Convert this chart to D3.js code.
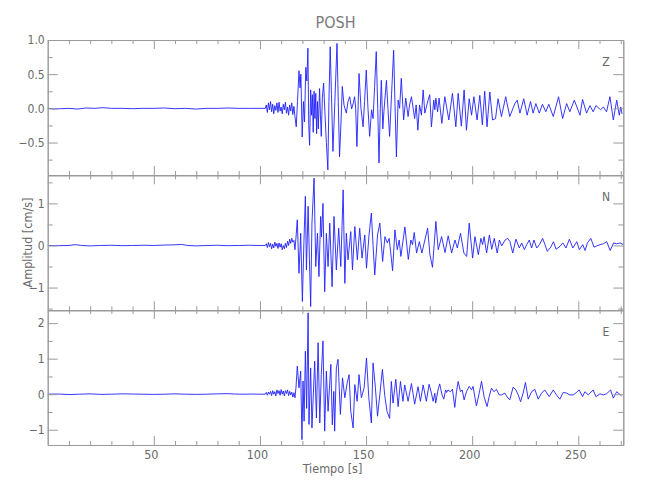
<!DOCTYPE html>
<html><head><meta charset="utf-8">
<script src="https://cdn.jsdelivr.net/npm/d3@7"></script>
<style>
body{margin:0;background:#fff}
svg text{font-family:'Liberation Sans Narrow','DejaVu Sans Condensed','DejaVu Sans',sans-serif;font-stretch:condensed;}
</style>
</head><body>
<svg id="chart" width="650" height="500"></svg>
<script>
// ---- DATA ----
const title = "POSH";
const channels = ["Z", "N", "E"];
const xLabel = "Tiempo [s]";
const yLabel = "Amplitud [cm/s]";
const xMajorTicks = [50, 100, 150, 200, 250];
const xMinorTicks = [10,20,30,40,60,70,80,90,110,120,130,140,160,170,180,190,210,220,230,240,260,270];
const yMajorZ = [-0.5, 0, 0.5, 1.0];
const yMinorZ = [-0.75, -0.25, 0.25, 0.75];
const yMajorN = [-1, 0, 1];
const yMinorN = [-1.5, -0.5, 0.5, 1.5];
const yMajorE = [-1, 0, 1, 2];
const yMinorE = [-0.5, 0.5, 1.5];
const yRangeZ = [-0.975, 1.0];
const yRangeN = [-1.54, 1.667];
const yRangeE = [-1.43, 2.37];
const timeRange = [0, 271.2];

// trace samples: [time (s), amplitude (cm/s)]
const traceZ = [
[0,0],[3,-0.01],[6,-0.005],[10,0],[14,-0.01],[18,0.005],[22,0],[26,0.01],[30,0],[35,0],[40,-0.005],[45,0],[50,0],[55,0.005],[60,-0.005],[65,0],[70,-0.01],[75,0],[80,0],[85,0.005],[90,0],[95,0],[100,0],[102.5,0],
[103,0.05],[103.5,-0.06],[104,0.08],[104.5,-0.02],[105,0.1],[105.5,-0.05],[106,0.06],[106.5,-0.08],[107,0.04],[107.5,-0.03],[108,0.08],[108.5,-0.06],[109,0.09],[109.5,-0.04],[110,0.02],[110.5,-0.08],[111,0.06],[111.5,-0.02],[112,0.09],[112.5,-0.07],[113,0.02],[113.5,-0.1],[114,0.05],[114.5,-0.04],[115,0.08],[115.5,-0.09],[116,0.03],[116.5,-0.12],[117.1,-0.27],
[117.7,0.1],[118.4,0.55],[118.9,0.3],[119.3,0.5],[119.9,-0.42],[120.5,0.1],[121,-0.2],[121.6,0.6],[122.1,0.4],[122.6,0.88],[123,-0.25],[123.4,-0.54],[123.9,0.27],[124.3,-0.1],[124.7,0.2],[125.1,-0.35],[125.5,0.25],[125.9,-0.15],[126.3,0.22],[126.7,-0.37],[127.1,0.1],[127.5,-0.3],[128.1,0.29],[128.5,-0.1],[128.9,-0.41],[129.4,0.15],[130,0.37],[130.6,-0.05],[131.3,-0.5],[132,-0.9],[132.5,0.1],[133.1,0.9],[133.7,0.2],[134.4,-0.63],[135.3,0.1],[136.3,0.95],[136.9,0.1],[137.5,-0.71],[138.2,-0.2],[138.8,0.32],[139.6,0.05],[140.7,-0.07],[141.5,0.1],[142.3,0.17],[143.2,-0.01],[144,0.08],[144.6,0.17],[145.1,0],[145.7,-0.56],[146.7,0.51],[147.6,0],[148.6,-0.27],[149.3,0.1],[150.1,0.56],[150.9,0],[151.7,-0.41],[152.6,-0.02],[153.3,-0.15],[154,0.3],[154.8,0.83],[155.5,0],[156.1,-0.8],[156.7,0],[157.2,0.41],[157.9,-0.3],[158.4,-0.05],[159.6,0.41],[160.3,0],[161.1,-0.41],[162,0.2],[163,0.85],[163.6,0.1],[164.3,-0.71],[165.1,0.12],[165.8,0],[166.6,0.44],[167.7,-0.17],[168.7,0.15],[169.8,-0.12],[170.5,0.05],[171.4,0.17],[172.9,-0.15],[173.6,0.05],[174.4,-0.32],[175.2,0.05],[176.1,-0.1],[176.9,0.27],[177.7,-0.07],[178.4,0.02],[179.2,0.12],
[180,0.2],[180.8,-0.27],[181.9,0.12],[182.4,-0.02],[182.9,0.15],[183.7,-0.05],[184.4,0.15],[185.7,-0.22],[187.1,0.17],[189,-0.17],[190.7,0.22],[192.3,-0.27],[193.4,0.22],[194.9,-0.26],[196.2,0.27],[197.3,-0.32],[198.6,0.14],[199.7,-0.1],[200.8,0.17],[202.3,-0.17],[203.6,0.19],[204.8,-0.24],[205.9,0.25],[207,-0.27],[208.3,0.24],[209.6,-0.17],[211,-0.15],[212.2,0.14],[213.8,-0.12],[215.8,0.17],[217.7,-0.12],[220.1,0.07],[221.2,0.12],[222.5,-0.07],[224.3,0.14],[225.9,-0.1],[227.5,0.1],[228.7,-0.07],[230,0.07],[231.6,-0.07],[233.1,0.06],[234.7,-0.05],[236.1,0.06],[238.2,-0.12],[240.7,0.17],[242.6,-0.15],[244.5,0.07],[246,-0.05],[248.1,0.12],[250.8,-0.1],[252,0.13],[253.9,-0.07],[255.5,0.04],[257,-0.05],[258.3,0.04],[260.5,-0.02],[261.8,0.02],[263.3,-0.05],[264.9,0.17],[266.5,-0.17],[268.1,0.12],[269.3,-0.1],[270,0.02],[270.6,-0.08]
];
const traceN = [
[0,0],[5,-0.005],[10,0],[13,0.02],[16,0],[20,-0.01],[25,0],[30,0.005],[35,-0.005],[40,0],[45,0.005],[50,0],[55,0.01],[60,0.015],[63,0.025],[66,0],[70,-0.01],[75,0],[80,0.005],[85,-0.005],[90,0],[95,0.005],[100,0],[102.5,0],
[103,0.04],[103.5,-0.05],[104,0.07],[104.5,-0.03],[105,0.05],[105.5,-0.08],[106,0.03],[106.5,-0.06],[107,0.08],[107.5,-0.02],[108,0.05],[108.5,-0.07],[109,0.06],[109.5,-0.04],[110,0.04],[110.5,-0.1],[111,0],[111.5,-0.08],[112,0.05],[112.5,-0.05],[113,0.1],[113.5,0],[114,0.15],[114.5,0.05],[115,0.17],[115.5,0.08],[116,0.12],[116.5,-0.1],[117,0.2],
[117.6,0.61],[118.4,-0.66],[119.2,0.29],[120,-1.33],[120.7,0.05],[121.4,1.17],[121.9,-0.58],[122.7,0.93],[123.3,-0.3],[123.9,-1.45],[124.5,0.53],[125.5,1.6],[126.3,-0.5],[127.1,0.29],[127.8,-0.74],[128.6,0.69],[129,0.2],[129.7,1.0],[130.5,-1.1],[131.3,0.29],[132.1,-0.5],[132.9,0.53],[134,-0.98],[134.9,0.69],[136,-0.58],[137.1,0.41],[138.1,-0.5],[139.2,1.32],[140,-0.9],[140.7,0.29],[141.5,-0.34],[142.8,0.33],[143.6,-0.58],[144.7,0.45],[145.9,-0.34],[147,0.41],[148.1,-0.3],[149.4,0.25],[150.2,-0.54],[151.4,0.25],[152.5,0.77],[153.3,0],[154.1,-0.7],[155.4,0.25],[156.5,0.53],
[157.8,-0.38],[158.9,0.21],[160,0.06],[160.9,0.17],[162.5,-0.6],[163.6,0.37],[164.7,-0.1],[165.6,0.13],[166.4,-0.26],[168.3,0.44],[169.9,-0.33],[171.1,0.13],[171.9,0.02],[172.7,0.31],[173.8,-0.18],[175.1,0.09],[176.3,-0.18],[177.4,0.06],[179,0.41],[180.1,-0.22],[181.3,-0.52],[182.9,0.57],[184,-0.1],[185.6,0.21],[187.2,-0.17],[188.7,0.23],[190.3,-0.18],[191.9,0.13],[193,-0.06],[194.5,0.29],[196.1,-0.18],[197.4,-0.26],[198.6,0.53],[200.2,-0.3],[201.3,0.21],[202.9,-0.22],[204.1,0.17],[204.9,0.02],[205.6,0.21],[206.8,-0.18],[208.1,0.25],[209.2,-0.09],[210.4,0.17],[211.8,-0.18],[212.8,0.13],[213.9,-0.01],[215.5,0.13],[216.7,0.17],[217.8,0.09],[219.1,-0.18],[220.6,0.15],[222.2,-0.06],[223.3,0.06],[224.6,-0.1],[225.7,0.02],[226.9,0.13],[228,-0.06],[229.1,0.13],[230.4,-0.06],[231.7,0.02],[233.2,0.17],[234.3,0.02],[235.4,-0.14],[237,-0.04],[238.3,0.09],[239.5,-0.09],[241.4,-0.02],[242.7,0.06],[244.2,-0.06],[245.8,0.15],[247.4,-0.06],[249.3,0.09],[250.5,-0.1],[252.1,0.02],[253.2,-0.12],[254.3,0.06],[255.9,0.17],[257.4,-0.04],[258.7,-0.01],[260.3,0.02],[261.8,0.04],[263.4,0.09],[265,-0.12],[266.6,0.06],[268.1,0.04],[269.7,0.06],[271.2,0.02]
];
const traceE = [
[0,0],[5,0.005],[10,-0.01],[15,0],[20,0.01],[25,-0.005],[30,0],[35,0.01],[40,0.005],[45,0],[50,-0.005],[55,0],[60,0.01],[65,0],[70,-0.005],[75,0],[80,0.01],[85,0.015],[88,0.005],[92,0],[96,0.005],[100,0],[102.5,0],
[103,0.05],[103.5,-0.03],[104,0.06],[104.5,0],[105,0.08],[105.5,-0.04],[106,0.1],[106.5,0],[107,0.07],[107.5,-0.05],[108,0.12],[108.5,0.02],[109,0.1],[109.5,-0.03],[110,0.13],[110.5,0],[111,0.09],[111.5,-0.05],[112,0.1],[112.5,0.02],[113,0.12],[113.5,-0.04],[114,0.08],[114.5,-0.02],[115,0.06],[115.5,-0.08],[116,0.04],[116.5,-0.1],[117,0.2],
[117.6,0.79],[118.4,0.18],[119.2,0.65],[119.8,-1.28],[120.3,0.37],[120.8,-0.76],[121.4,1.21],[122,-0.4],[122.7,2.29],[123.1,-0.85],[123.9,0.74],[124.5,-0.95],[125.8,0.93],[126.6,-0.67],[127.4,1.45],[128.2,-0.81],[128.9,0.55],[129.7,1.5],[130.5,-1.04],[131.3,0.65],[132.1,-0.48],[133.4,0.84],[134.1,-0.86],[134.8,0.08],[135.2,-1.04],[136,0.74],[136.8,0.98],[137.9,-0.57],[138.9,0.46],[140,-0.1],[141.1,0.32],[142,0.55],[142.8,-0.48],[143.9,-0.95],[144.7,0.27],[145.8,-0.2],[146.7,0.55],[147.8,-0.1],[149.1,0.18],[150.2,1.02],[151.3,-0.1],[152.5,-0.81],[153.3,0.88],[154.4,0.18],[155.4,-0.62],[156.5,-0.01],[157.7,0.7],
[158.8,-0.04],[159.9,-0.49],[161.1,-0.68],[161.9,0.36],[162.7,-0.25],[164,0.42],[165.1,-0.35],[166.2,0.36],[167.4,-0.2],[168.2,0.26],[169.8,-0.2],[171.4,0.3],[172.9,-0.28],[174.5,0.21],[175.6,-0.2],[176.9,0.26],[178.4,-0.2],[179.7,0.28],
[180.8,0.03],[181.6,-0.2],[182.4,0.03],[182.8,-0.25],[183.9,0.12],[184.7,0.29],[185.8,-0.02],[186.6,-0.14],[187.5,0.12],[188,0.05],[188.6,0.12],[189.7,0.07],[190.7,0.14],[191.8,-0.37],[192.6,0.07],[193.4,0.36],[194.5,0.07],[195.3,0.12],[196.2,-0.16],[197.3,0.07],[198.6,0.22],[199.7,0.12],[200.4,0.22],[202,-0.33],[203.3,0.03],[204.4,0.36],[205.6,-0.07],[207,-0.35],[208,-0.07],[209.1,0.17],[210.3,0.07],[211.4,0.14],[212.7,-0.02],[213.8,-0.02],[215.4,0.03],[216.5,-0.08],[217.7,-0.16],[219.3,0.2],[220.6,0.12],[221.7,-0.02],[222.8,-0.21],[224,0.03],[225.1,0.33],[226.4,-0.14],[228,0.07],[229.5,0.14],[231.1,-0.14],[232.7,0.03],[234.2,0.12],[236.3,-0.07],[238.2,0.12],[239.7,-0.02],[241.3,-0.14],[242.9,0.05],[244.5,0.03],[246,-0.02],[247.6,-0.02],[249.2,0.05],[250.4,0.12],[252,-0.07],[253.1,0.07],[254.7,-0.02],[257,0.12],[258.3,-0.07],[260.2,0.01],[261.8,-0.02],[263.3,0.01],[265.2,0.12],[266.5,-0.11],[268.1,0.07],[269.3,0.01],[270.4,-0.05]
];

// ---- LAYOUT / DRAW ----
const svg = d3.select("#chart");
const left = 47.7, right = 623.3;
const panelTops = [40, 175.3, 310];
const panelH = 135;
const axisColor = "#9a9a9a";
const textColor = "#6a6a6a";

const x = d3.scaleLinear().domain(timeRange).range([left, right]);

const panels = [
  {name: channels[0], data: traceZ, dom: yRangeZ, maj: yMajorZ, min: yMinorZ, fmt: d3.format(".1f")},
  {name: channels[1], data: traceN, dom: yRangeN, maj: yMajorN, min: yMinorN, fmt: d3.format("d")},
  {name: channels[2], data: traceE, dom: yRangeE, maj: yMajorE, min: yMinorE, fmt: d3.format("d")}
];

function styleAxis(g){
  g.selectAll("path").attr("stroke", axisColor).attr("stroke-width", 1);
  g.selectAll("line").attr("stroke", axisColor).attr("stroke-width", 1);
  g.selectAll("text").attr("fill", textColor).attr("font-size", 12.5);
}

panels.forEach((p, i) => {
  const top = panelTops[i], bot = top + panelH;
  const y = d3.scaleLinear().domain(p.dom).range([bot, top]);

  const clipId = "clip" + i;
  svg.append("clipPath").attr("id", clipId).append("rect")
    .attr("x", left).attr("y", top).attr("width", right - left).attr("height", panelH);

  const line = d3.line().x(d => x(d[0])).y(d => y(d[1]));
  svg.append("path").datum(p.data)
    .attr("clip-path", `url(#${clipId})`)
    .attr("d", line).attr("fill", "none")
    .attr("stroke", "#2020ff").attr("stroke-width", 0.9).attr("stroke-linejoin", "round");

  // left axes
  svg.append("g").attr("transform", `translate(${left},0)`)
    .call(d3.axisLeft(y).tickValues(p.maj).tickSizeInner(-10).tickSizeOuter(0).tickPadding(3)
      .tickFormat(d => p.fmt(d).replace("-", "\u2212")))
    .call(styleAxis).call(g => g.selectAll("text").attr("font-size", 12));
  svg.append("g").attr("transform", `translate(${left},0)`)
    .call(d3.axisLeft(y).tickValues(p.min).tickSizeInner(-5).tickSizeOuter(0).tickFormat(""))
    .call(styleAxis);
  // right axes
  svg.append("g").attr("transform", `translate(${right},0)`)
    .call(d3.axisRight(y).tickValues(p.maj).tickSizeInner(-10).tickSizeOuter(0).tickFormat(""))
    .call(styleAxis);
  svg.append("g").attr("transform", `translate(${right},0)`)
    .call(d3.axisRight(y).tickValues(p.min).tickSizeInner(-5).tickSizeOuter(0).tickFormat(""))
    .call(styleAxis);
  // top axes
  svg.append("g").attr("transform", `translate(0,${top})`)
    .call(d3.axisTop(x).tickValues(xMajorTicks).tickSizeInner(-9).tickSizeOuter(0).tickFormat(""))
    .call(styleAxis);
  svg.append("g").attr("transform", `translate(0,${top})`)
    .call(d3.axisTop(x).tickValues(xMinorTicks).tickSizeInner(-4).tickSizeOuter(0).tickFormat(""))
    .call(styleAxis);
  // bottom axes
  const isLast = i === panels.length - 1;
  svg.append("g").attr("transform", `translate(0,${bot})`)
    .call(d3.axisBottom(x).tickValues(xMajorTicks).tickSizeInner(-9).tickSizeOuter(0).tickPadding(5)
      .tickFormat(isLast ? d3.format("d") : ""))
    .call(styleAxis).call(g => g.selectAll("text").attr("dx", -3).attr("font-size", 12.5));
  svg.append("g").attr("transform", `translate(0,${bot})`)
    .call(d3.axisBottom(x).tickValues(xMinorTicks).tickSizeInner(-4).tickSizeOuter(0).tickFormat(""))
    .call(styleAxis);

  // channel label
  svg.append("text").attr("x", 606).attr("y", top + 26)
    .attr("text-anchor", "middle").attr("fill", textColor).attr("font-size", 12)
    .text(p.name);
});

// title and axis titles
svg.append("text").attr("x", (left + right) / 2).attr("y", 28)
  .attr("text-anchor", "middle").attr("fill", "#7a7a7a").attr("font-size", 16).text(title);
svg.append("text").attr("x", (left + right) / 2 - 3).attr("y", 473)
  .attr("text-anchor", "middle").attr("fill", textColor).attr("font-size", 12.5).text(xLabel);
svg.append("text").attr("transform", `translate(32,${(panelTops[0] + panelTops[2] + panelH) / 2}) rotate(-90)`)
  .attr("text-anchor", "middle").attr("fill", textColor).attr("font-size", 12.5).text(yLabel);
</script>
</body></html>
